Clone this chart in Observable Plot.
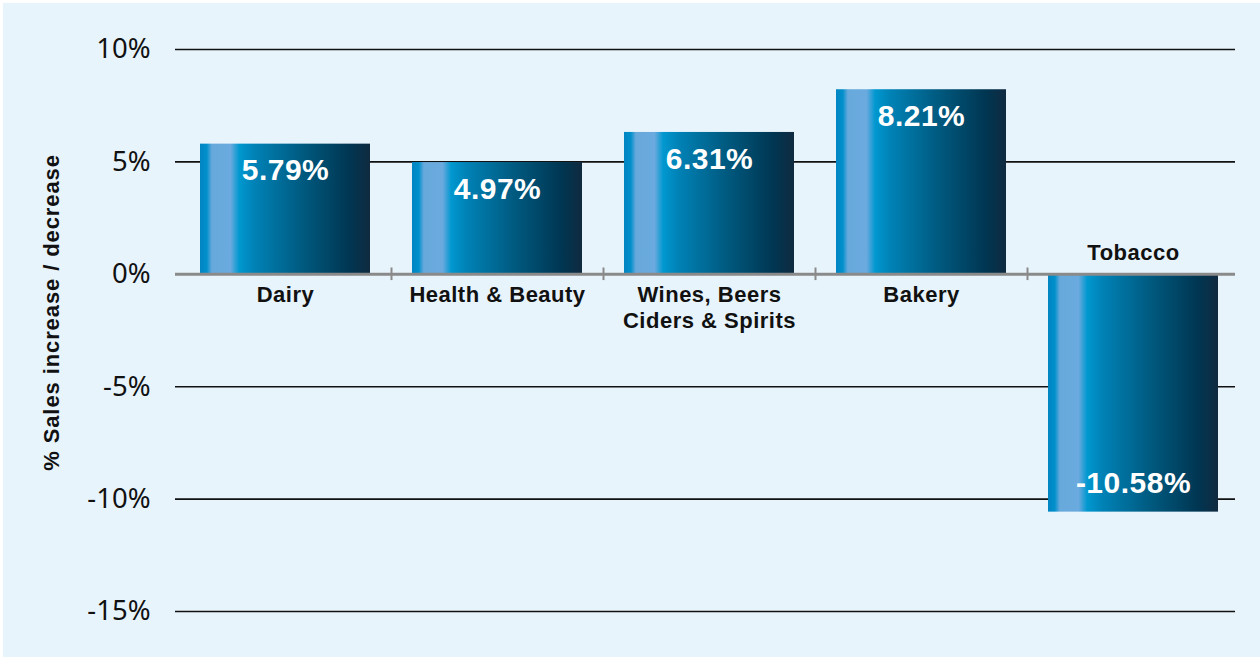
<!DOCTYPE html>
<html><head><meta charset="utf-8">
<script src="https://cdn.jsdelivr.net/npm/d3@7"></script>
<script src="https://cdn.jsdelivr.net/npm/@observablehq/plot@0.6"></script>
<style>
html,body{margin:0;padding:0;background:#ffffff;}
#chart{position:absolute;left:3px;top:3px;}
svg{display:block;background:#e8f4fc;}
.bold text, text.bold{letter-spacing:0.5px;}
.ylab text, text.ylab{letter-spacing:0.9px;}
</style></head>
<body><div id="chart"></div>
<script>
const categories = ["Dairy", "Health & Beauty", "Wines, Beers\nCiders & Spirits", "Bakery", "Tobacco"];
const values = [5.79, 4.97, 6.31, 8.21, -10.58];
const valueLabels = ["5.79%", "4.97%", "6.31%", "8.21%", "-10.58%"];
const yTicks = [10, 5, 0, -5, -10, -15];
const gridTicks = [10, 5, -5, -10, -15];
const yLabel = "% Sales increase / decrease";

const data = categories.map((c, i) => ({cat: c, value: values[i], label: valueLabels[i]}));
const pos = data.filter(d => d.value >= 0);
const neg = data.filter(d => d.value < 0);
const font = "Liberation Sans, Arial, Helvetica, sans-serif";
const shift = 4;

const W = 1257, H = 654;
const chart = Plot.plot({
  width: W, height: H,
  marginLeft: 172, marginRight: 25, marginTop: 46, marginBottom: 46,
  style: {fontFamily: font, background: "#e8f4fc"},
  x: {domain: categories, paddingInner: 0.2, paddingOuter: 0.1, axis: null},
  y: {domain: [-15, 10], axis: null},
  marks: [
    Plot.ruleY(gridTicks, {stroke: "#111", strokeWidth: 1.6}),
    Plot.axisY(yTicks, {label: null, tickSize: 0, tickPadding: 25, fontSize: 27.5, fontFamily: "Noto Sans, sans-serif", tickFormat: d => d + "%", fill: "#111"}),
    Plot.text([yLabel], {frameAnchor: "left", textAnchor: "middle", dx: -124, dy: -18, rotate: -90, fontSize: 22, fontWeight: "bold", fill: "#111", className: "ylab"}),
    Plot.barY(data, {x: "cat", y: "value", dx: shift, fill: "url(#barGrad)"}),
    Plot.ruleY([0], {stroke: "#8a8a8a", strokeWidth: 3}),
    Plot.ruleX(categories.slice(1), {x: d => d, y1: -0.28, y2: 0.28, dx: -106 + shift, stroke: "#8a8a8a", strokeWidth: 2}),
    Plot.text(pos, {x: "cat", y: 0, text: "cat", dx: shift, lineAnchor: "top", dy: 9, fontSize: 22, fontWeight: "bold", lineHeight: 1.18, fill: "#111", className: "bold"}),
    Plot.text(neg, {x: "cat", y: 0, text: "cat", dx: shift, lineAnchor: "bottom", dy: -14, fontSize: 22, fontWeight: "bold", fill: "#111", className: "bold"}),
    Plot.text(pos, {x: "cat", y: "value", text: "label", dx: shift, lineAnchor: "top", dy: 15, fontSize: 30, fontWeight: "bold", fill: "#ffffff", className: "bold"}),
    Plot.text(neg, {x: "cat", y: "value", text: "label", dx: shift, lineAnchor: "bottom", dy: -19, fontSize: 30, fontWeight: "bold", fill: "#ffffff", className: "bold"})
  ]
});

const svg = d3.select(chart);
const defs = svg.insert("defs", ":first-child");
const grad = defs.append("linearGradient").attr("id", "barGrad").attr("x1", "0%").attr("x2", "100%").attr("y1", "0%").attr("y2", "0%");
[[0, "#0085c2"], [0.04, "#0090cc"], [0.07, "#68a9dc"], [0.18, "#6aaade"], [0.23, "#0098d0"], [0.32, "#0082b6"], [0.6, "#005a80"], [0.88, "#003652"], [1, "#102a40"]]
  .forEach(([o, c]) => grad.append("stop").attr("offset", o).attr("stop-color", c));
document.getElementById("chart").appendChild(chart);
</script>
</body></html>
